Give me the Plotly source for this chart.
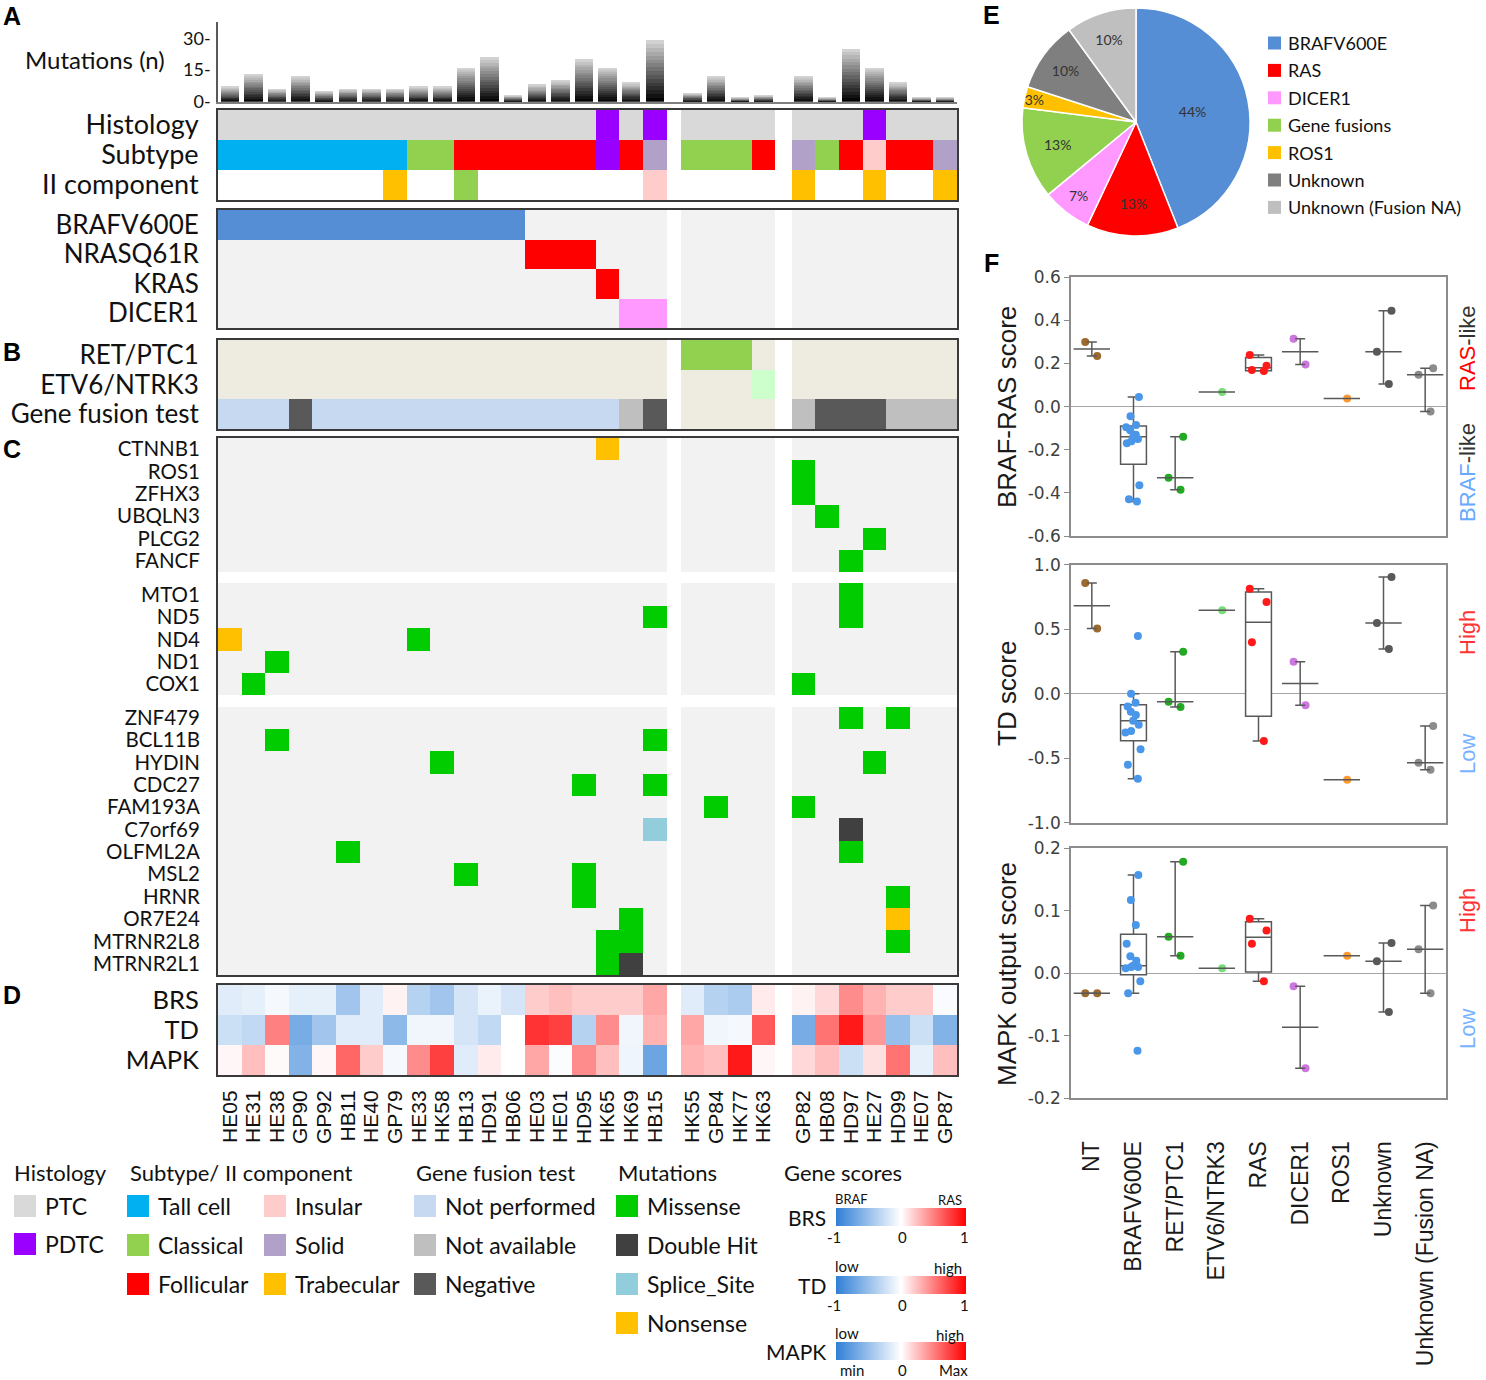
import numpy as np
import plotly.graph_objects as go

W, H = 1486, 1380


def px(x):
    return x / W


def py(y):
    return 1 - y / H


# ============================ DATA ============================
samples = ["HE05", "HE31", "HE38", "GP90", "GP92", "HB11", "HE40", "GP79", "HE33", "HK58",
           "HB13", "HD91", "HB06", "HE03", "HE01", "HD95", "HK65", "HK69", "HB15",
           "HK55", "GP84", "HK77", "HK63",
           "GP82", "HB08", "HD97", "HE27", "HD99", "HE07", "GP87"]
group_sizes = [19, 4, 7]

mutation_counts = [7, 13, 6, 12, 5, 6, 6, 6, 7, 7, 16, 21, 3, 8, 10, 20, 16, 9, 29,
                   4, 12, 2, 3,
                   12, 2, 25, 16, 9, 2, 2]

histology = ["PTC"] * 16 + ["PDTC", "PTC", "PDTC"] + ["PTC"] * 7 + ["PDTC"] + ["PTC"] * 3
subtype = (["Tall cell"] * 8 + ["Classical"] * 2 + ["Follicular"] * 6 + ["PDTC", "Follicular", "Solid"]
           + ["Classical"] * 3 + ["Follicular"]
           + ["Solid", "Classical", "Follicular", "Insular", "Follicular", "Follicular", "Solid"])
second_component = ([None] * 7 + ["Trabecular"] + [None] * 2 + ["Classical"] + [None] * 7 + ["Insular"]
                    + [None] * 4 + ["Trabecular"] + [None] * 2 + ["Trabecular"] + [None] * 2 + ["Trabecular"])
annot_rows = ["Histology", "Subtype", "II component"]

driver = ["BRAFV600E"] * 13 + ["NRASQ61R"] * 3 + ["KRAS"] + ["DICER1"] * 2 + [None] * 11
driver_rows = ["BRAFV600E", "NRASQ61R", "KRAS", "DICER1"]

fusion = [None] * 19 + ["RET/PTC1"] * 3 + ["ETV6/NTRK3"] + [None] * 7
fusion_rows = ["RET/PTC1", "ETV6/NTRK3"]
fusion_test = (["Not performed"] * 3 + ["Negative"] + ["Not performed"] * 13 + ["Not available", "Negative"]
               + [None] * 4
               + ["Not available", "Negative", "Negative", "Negative", "Not available", "Not available", "Not available"])

mut_gene_blocks = [["CTNNB1", "ROS1", "ZFHX3", "UBQLN3", "PLCG2", "FANCF"],
                   ["MTO1", "ND5", "ND4", "ND1", "COX1"],
                   ["ZNF479", "BCL11B", "HYDIN", "CDC27", "FAM193A", "C7orf69", "OLFML2A",
                    "MSL2", "HRNR", "OR7E24", "MTRNR2L8", "MTRNR2L1"]]
mut_gene = ["CTNNB1", "ROS1", "ZFHX3", "UBQLN3", "PLCG2", "FANCF", "MTO1", "ND5", "ND5", "ND4", "ND4",
            "ND1", "COX1", "COX1", "ZNF479", "ZNF479", "BCL11B", "BCL11B", "HYDIN", "HYDIN",
            "CDC27", "CDC27", "FAM193A", "FAM193A", "C7orf69", "C7orf69", "OLFML2A", "OLFML2A",
            "MSL2", "MSL2", "HRNR", "HRNR", "OR7E24", "OR7E24", "MTRNR2L8", "MTRNR2L8", "MTRNR2L8",
            "MTRNR2L1", "MTRNR2L1"]
mut_sample = ["HK65", "GP82", "GP82", "HB08", "HE27", "HD97", "HD97", "HB15", "HD97", "HE05", "HE33",
              "HE38", "HE31", "GP82", "HD97", "HD99", "HE38", "HB15", "HK58", "HE27",
              "HD95", "HB15", "GP84", "GP82", "HB15", "HD97", "HB11", "HD97",
              "HB13", "HD95", "HD95", "HD99", "HK69", "HD99", "HK65", "HK69", "HD99",
              "HK65", "HK69"]
mut_type = ["Nonsense", "Missense", "Missense", "Missense", "Missense", "Missense", "Missense", "Missense",
            "Missense", "Nonsense", "Missense", "Missense", "Missense", "Missense", "Missense", "Missense",
            "Missense", "Missense", "Missense", "Missense", "Missense", "Missense", "Missense", "Missense",
            "Splice_Site", "Double Hit", "Missense", "Missense", "Missense", "Missense", "Missense",
            "Missense", "Missense", "Nonsense", "Missense", "Missense", "Missense", "Missense", "Double Hit"]

score_rows = ["BRS", "TD", "MAPK"]
brs_score = [-0.15, -0.12, -0.05, -0.12, -0.12, -0.45, -0.15, 0.05, -0.35, -0.45, -0.2, -0.1, -0.2,
             0.2, 0.25, 0.2, 0.2, 0.2, 0.35,
             -0.15, -0.35, -0.4, 0.08,
             0.05, 0.15, 0.45, 0.3, 0.2, 0.2, -0.03]
td_score = [-0.25, -0.3, 0.5, -0.65, -0.45, -0.15, -0.15, -0.55, -0.07, -0.07, -0.2, -0.3, 0.0,
            0.8, 0.75, -0.35, 0.45, -0.07, 0.3,
            0.35, -0.07, -0.05, 0.65,
            -0.65, 0.55, 0.9, 0.4, -0.5, -0.25, -0.6]
mapk_score = [0.03, 0.25, 0.02, -0.6, 0.03, 0.6, 0.2, -0.05, 0.45, 0.75, -0.15, 0.08, 0.0,
              0.35, -0.02, 0.45, 0.25, -0.08, -0.7,
              0.3, 0.25, 0.9, 0.03,
              0.15, 0.25, -0.25, 0.12, 0.55, -0.12, 0.25]

pie_labels = ["BRAFV600E", "RAS", "DICER1", "Gene fusions", "ROS1", "Unknown", "Unknown (Fusion NA)"]
pie_values = [44, 13, 7, 13, 3, 10, 10]
pie_colors = ["#558ed5", "#ff0000", "#ff99ff", "#92d050", "#ffc000", "#7f7f7f", "#bfbfbf"]

groups_f = ["NT", "BRAFV600E", "RET/PTC1", "ETV6/NTRK3", "RAS", "DICER1", "ROS1", "Unknown",
            "Unknown (Fusion NA)"]
group_colors_f = ["#9c6a2e", "#4a97ea", "#22aa22", "#77dd77", "#ff1a1a", "#cc77dd", "#ff9933",
                  "#595959", "#8c8c8c"]
brs_f = {
    "NT": [0.30, 0.235],
    "BRAFV600E": [0.045, -0.045, -0.085, -0.095, -0.11, -0.13, -0.14, -0.15, -0.16, -0.17, -0.365, -0.43, -0.44],
    "RET/PTC1": [-0.14, -0.33, -0.385],
    "ETV6/NTRK3": [0.068],
    "RAS": [0.24, 0.19, 0.17, 0.165],
    "DICER1": [0.315, 0.195],
    "ROS1": [0.038],
    "Unknown": [0.445, 0.255, 0.105],
    "Unknown (Fusion NA)": [0.178, 0.148, -0.022],
}
td_f = {
    "NT": [0.858, 0.506],
    "BRAFV600E": [0.447, 0.0, -0.07, -0.10, -0.14, -0.165, -0.21, -0.24, -0.29, -0.30, -0.43, -0.55, -0.66],
    "RET/PTC1": [0.325, -0.062, -0.103],
    "ETV6/NTRK3": [0.646],
    "RAS": [0.814, 0.71, 0.398, -0.367],
    "DICER1": [0.248, -0.09],
    "ROS1": [-0.667],
    "Unknown": [0.904, 0.548, 0.346],
    "Unknown (Fusion NA)": [-0.25, -0.535, -0.59],
}
mapk_f = {
    "NT": [-0.032, -0.032],
    "BRAFV600E": [0.157, 0.117, 0.077, 0.047, 0.027, 0.02, 0.012, 0.01, 0.01, 0.008, -0.013, -0.032, -0.124],
    "RET/PTC1": [0.178, 0.058, 0.028],
    "ETV6/NTRK3": [0.008],
    "RAS": [0.087, 0.068, 0.047, -0.013],
    "DICER1": [-0.021, -0.152],
    "ROS1": [0.028],
    "Unknown": [0.048, 0.019, -0.062],
    "Unknown (Fusion NA)": [0.108, 0.038, -0.032],
}
brs_ticks = [-0.6, -0.4, -0.2, 0.0, 0.2, 0.4, 0.6]
brs_ticktext = ["-0.6", "-0.4", "-0.2", "0.0", "0.2", "0.4", "0.6"]
td_ticks = [-1.0, -0.5, 0.0, 0.5, 1.0]
td_ticktext = ["-1.0", "-0.5", "0.0", "0.5", "1.0"]
mapk_ticks = [-0.2, -0.1, 0.0, 0.1, 0.2]
mapk_ticktext = ["-0.2", "-0.1", "0.0", "0.1", "0.2"]
bar_ticks = [0, 15, 30]
bar_ticktext = ["0-", "15-", "30-"]

# ============================ STYLE ============================
LFONT = "Lato"
AFONT = "Liberation Sans"
TFONT = "DejaVu Sans"
cell_colors = {
    "PTC": "#d9d9d9", "PDTC": "#9a00ff",
    "Tall cell": "#00b0f0", "Classical": "#92d050", "Follicular": "#ff0000",
    "Insular": "#ffcccc", "Solid": "#b1a0c7", "Trabecular": "#ffc000",
    "BRAFV600E": "#558ed5", "NRASQ61R": "#ff0000", "KRAS": "#ff0000", "DICER1": "#ff99ff",
    "RET/PTC1": "#92d050", "ETV6/NTRK3": "#ccffcc",
    "Not performed": "#c6d9f1", "Not available": "#bfbfbf", "Negative": "#595959",
    "Missense": "#00cc00", "Double Hit": "#404040", "Splice_Site": "#92cddc", "Nonsense": "#ffc000",
    "empty_white": "#ffffff", "empty_gray": "#f2f2f2", "empty_beige": "#eeece1",
}
keys = list(cell_colors)
code = {k: i for i, k in enumerate(keys)}
NK = len(keys)
cat_scale = []
for i, k in enumerate(keys):
    cat_scale += [[i / NK, cell_colors[k]], [(i + 1) / NK, cell_colors[k]]]
score_scale = [[0, "#2f7fd6"], [0.5, "#ffffff"], [1, "#ff0000"]]

GAP_W = [0.6, 0.7]
col_widths, sample_col = [], []
for g, nn in enumerate(group_sizes):
    if g:
        col_widths.append(GAP_W[g - 1])
    for _ in range(nn):
        sample_col.append(len(col_widths))
        col_widths.append(1.0)
x_edges = [0.0] + [float(v) for v in np.cumsum(col_widths)]
NCOL = len(col_widths)
XMAX = x_edges[-1]
x_centers = [(x_edges[c] + x_edges[c + 1]) / 2 for c in sample_col]


def grid_row(values, fill):
    row = [None] * NCOL
    for i, v in enumerate(values):
        row[sample_col[i]] = code[v if v is not None else fill]
    return row


fig = go.Figure()


def cat_heatmap(z, y_edges, ax):
    fig.add_trace(go.Heatmap(z=z, x=x_edges, y=y_edges, colorscale=cat_scale, zmin=-0.5, zmax=NK - 0.5,
                             showscale=False, hoverinfo="skip", xaxis="x" + ax, yaxis="y" + ax))


# ---- A: mutation count bars (gradient by stacked segments) ----
N_SEG = 16
for k in range(N_SEG):
    t = k / (N_SEG - 1)
    s = int(5 + t * 205)
    fig.add_trace(go.Bar(x=x_centers, y=[v / N_SEG for v in mutation_counts], width=0.78,
                         marker=dict(color=f"rgb({s},{s},{s})", line=dict(width=0)),
                         hoverinfo="skip", showlegend=False, xaxis="x", yaxis="y"))

# ---- A: annotation rows ----
cat_heatmap([grid_row(histology, "empty_white"), grid_row(subtype, "empty_white"),
             grid_row(second_component, "empty_white")], [0, 1, 2, 3], "2")
cat_heatmap([grid_row([d if d == gname else None for d in driver], "empty_gray") for gname in driver_rows],
            [0, 1, 2, 3, 4], "3")
# ---- B ----
cat_heatmap([grid_row([f if f == gname else None for f in fusion], "empty_beige") for gname in fusion_rows]
            + [grid_row(fusion_test, "empty_beige")], [0, 1, 2, 3], "4")
# ---- C ----
mut_rows = []
for b, blk in enumerate(mut_gene_blocks):
    if b:
        mut_rows.append(None)
    mut_rows += blk
row_h = [0.5 if r is None else 1.0 for r in mut_rows]
y_edges_mut = [0.0] + [float(v) for v in np.cumsum(row_h)]
z_mut = []
for r in mut_rows:
    if r is None:
        z_mut.append([None] * NCOL)
        continue
    vals = [None] * len(samples)
    for gname, smp, typ in zip(mut_gene, mut_sample, mut_type):
        if gname == r:
            vals[samples.index(smp)] = typ
    z_mut.append(grid_row(vals, "empty_gray"))
cat_heatmap(z_mut, y_edges_mut, "5")
mut_tickvals = [(y_edges_mut[i] + y_edges_mut[i + 1]) / 2 for i, r in enumerate(mut_rows) if r is not None]
mut_ticktext = [r for r in mut_rows if r is not None]

# ---- D: score heatmap rows, each with its own legend colour bar ----
cb_y = [1217, 1285, 1351]
for r, vals in enumerate([brs_score, td_score, mapk_score]):
    row = [None] * NCOL
    for i, v in enumerate(vals):
        row[sample_col[i]] = v
    fig.add_trace(go.Heatmap(
        z=[row], x=x_edges, y=[r, r + 1], colorscale=score_scale, zmin=-1, zmax=1,
        hoverinfo="skip", xaxis="x6", yaxis="y6", showscale=True,
        colorbar=dict(orientation="h", x=px(901), xanchor="center", y=py(cb_y[r]), yanchor="middle",
                      len=130, lenmode="pixels", thickness=18, thicknessmode="pixels",
                      showticklabels=False, ticks="", outlinewidth=0, xpad=0, ypad=0)))

# ---- E: pie ----
fig.add_trace(go.Pie(values=pie_values, labels=pie_labels, sort=False, direction="clockwise", rotation=0,
                     marker=dict(colors=pie_colors, line=dict(color="white", width=1.5)),
                     texttemplate="%{percent:.0%}", textposition="inside", insidetextorientation="horizontal",
                     textfont=dict(family=LFONT, size=14, color="#333333"),
                     domain=dict(x=[px(1022), px(1250)], y=[py(236), py(8)]),
                     showlegend=False, hoverinfo="skip"))

# ---- F: box / range plots ----
LINE_C = "#595959"
for ax, data in [("7", brs_f), ("8", td_f), ("9", mapk_f)]:
    for cat, col in zip(groups_f, group_colors_f):
        vals = data[cat]
        if len(vals) >= 4:
            q1, med, q3 = np.percentile(vals, [25, 50, 75], method="weibull")
            iqr = q3 - q1
            lf = min(v for v in vals if v >= q1 - 1.5 * iqr)
            uf = max(v for v in vals if v <= q3 + 1.5 * iqr)
            fig.add_trace(go.Box(x=[cat], q1=[q1], median=[med], q3=[q3], lowerfence=[lf], upperfence=[uf],
                                 boxpoints=False, width=0.62, whiskerwidth=0.45,
                                 line=dict(color=LINE_C, width=1.5), fillcolor="white",
                                 hoverinfo="skip", showlegend=False, xaxis="x" + ax, yaxis="y" + ax))
        else:
            med = float(np.median(vals))
            fig.add_trace(go.Scatter(
                x=[cat], y=[med], mode="markers",
                marker=dict(symbol="line-ew", size=26, color=LINE_C, line=dict(width=1.5, color=LINE_C)),
                error_y=dict(type="data", symmetric=False, array=[max(vals) - med],
                             arrayminus=[med - min(vals)], color=LINE_C, thickness=1.5, width=5,
                             visible=len(vals) > 1),
                hoverinfo="skip", showlegend=False, xaxis="x" + ax, yaxis="y" + ax))
        fig.add_trace(go.Box(x=[cat] * len(vals), y=vals, boxpoints="all", jitter=0.8, pointpos=0, width=0.62,
                             line=dict(width=0, color="rgba(0,0,0,0)"), fillcolor="rgba(0,0,0,0)",
                             marker=dict(color=col, size=8), hoverinfo="skip", showlegend=False,
                             xaxis="x" + ax, yaxis="y" + ax))

# ============================ LAYOUT ============================
GX = [px(218), px(957)]
frame = dict(showline=True, mirror=True, linecolor="#3a3a3a", linewidth=2, showgrid=False, zeroline=False,
             automargin=False)
hidden_x = dict(frame, range=[0, XMAX], domain=GX, showticklabels=False, ticks="")


def row_yaxis(top, bottom, nrows, tickvals, ticktext, size):
    return dict(frame, domain=[py(bottom), py(top)], range=[nrows, 0], tickvals=tickvals, ticktext=ticktext,
                ticks="outside", ticklen=12, tickcolor="rgba(0,0,0,0)",
                tickfont=dict(family=LFONT, size=size, color="#111111"))


layout = dict(
    width=W, height=H, margin=dict(l=0, r=0, t=0, b=0), template="none",
    paper_bgcolor="white", plot_bgcolor="rgba(0,0,0,0)", barmode="stack", boxmode="overlay",
    showlegend=False, hovermode=False, font=dict(family=LFONT, color="#1a1a1a"),
    uniformtext=dict(minsize=14, mode="show"),
    xaxis=dict(domain=GX, range=[0, XMAX], showline=True, linecolor="#7f7f7f", linewidth=2, mirror=False,
               showgrid=False, zeroline=False, showticklabels=False, ticks="", automargin=False),
    yaxis=dict(domain=[py(101.7), py(22)], range=[0, 37.7], tickvals=bar_ticks, ticktext=bar_ticktext,
               showline=True, linecolor="#595959", linewidth=1.5, showgrid=False, zeroline=False,
               ticks="outside", ticklen=2, tickcolor="rgba(0,0,0,0)",
               tickfont=dict(family=LFONT, size=18, color="#111111"), automargin=False),
    xaxis2=dict(hidden_x, anchor="y2"),
    yaxis2=dict(row_yaxis(110, 200, 3, [0.5, 1.5, 2.5], annot_rows, 27), anchor="x2"),
    xaxis3=dict(hidden_x, anchor="y3"),
    yaxis3=dict(row_yaxis(210, 328, 4, [0.5, 1.5, 2.5, 3.5], driver_rows, 26), anchor="x3"),
    xaxis4=dict(hidden_x, anchor="y4"),
    yaxis4=dict(row_yaxis(340, 429, 3, [0.5, 1.5, 2.5], fusion_rows + ["Gene fusion test"], 26), anchor="x4"),
    xaxis5=dict(hidden_x, anchor="y5"),
    yaxis5=dict(row_yaxis(438, 975, y_edges_mut[-1], mut_tickvals, mut_ticktext, 20.5), anchor="x5"),
    xaxis6=dict(frame, range=[0, XMAX], domain=GX, anchor="y6", tickvals=x_centers, ticktext=samples,
                tickangle=-90, ticks="outside", ticklen=5, tickcolor="rgba(0,0,0,0)",
                tickfont=dict(family=AFONT, size=21, color="#111111")),
    yaxis6=dict(row_yaxis(985, 1075, 3, [0.5, 1.5, 2.5], score_rows, 25.5), anchor="x6"),
)

FX = [px(1071), px(1446)]
f_frame = dict(showline=True, mirror=True, linecolor="#8c8c8c", linewidth=1.5, showgrid=False, automargin=False)
for ax, (top, bottom), (rng, tv, tt) in [
        ("7", (277.3, 536), ([-0.6, 0.6], brs_ticks, brs_ticktext)),
        ("8", (564.7, 822.7), ([-1.0, 1.0], td_ticks, td_ticktext)),
        ("9", (848, 1098.3), ([-0.2, 0.2], mapk_ticks, mapk_ticktext))]:
    xa = dict(f_frame, domain=FX, anchor="y" + ax, type="category", categoryorder="array",
              categoryarray=groups_f, range=[-0.5, len(groups_f) - 0.5], zeroline=False)
    if ax == "9":
        xa.update(showticklabels=True, tickangle=-90, ticks="outside", ticklen=32,
                  tickcolor="rgba(0,0,0,0)", tickfont=dict(family=AFONT, size=23, color="#1a1a1a"))
    else:
        xa.update(showticklabels=False, ticks="")
    layout["xaxis" + ax] = xa
    layout["yaxis" + ax] = dict(f_frame, domain=[py(bottom), py(top)], anchor="x" + ax, range=rng,
                                tickvals=tv, ticktext=tt, ticks="outside", ticklen=5, tickcolor="#8c8c8c",
                                tickfont=dict(family=TFONT, size=17, color="#404040"),
                                zeroline=True, zerolinecolor="#a6a6a6", zerolinewidth=1.2)

fig.update_layout(**layout)

# ============================ TEXT & LEGENDS ============================
ann = []
shapes = []


def text(s, x, y, size, family=LFONT, color="#111111", xanchor="center", angle=0):
    ann.append(dict(text=s, x=px(x), y=py(y), xref="paper", yref="paper", showarrow=False,
                    xanchor=xanchor, yanchor="middle", textangle=angle,
                    font=dict(family=family, size=size, color=color)))


def square(x, y, size, color):
    shapes.append(dict(type="rect", xref="paper", yref="paper", x0=px(x), x1=px(x + size),
                       y0=py(y + size / 2), y1=py(y - size / 2), fillcolor=color, line=dict(width=0)))


for letter, lx, ly in [("A", 12, 16), ("B", 12, 352), ("C", 12, 449), ("D", 12, 995), ("E", 991, 15),
                       ("F", 991, 263)]:
    text(f"<b>{letter}</b>", lx, ly, 25, family=AFONT, color="#000000")

text("Mutations (n)", 167, 60, 24, xanchor="right")

# F axis titles and side labels
text("BRAF-RAS score", 1007, 407, 26, family=AFONT, angle=-90, color="#1a1a1a")
text("TD score", 1007, 694, 26, family=AFONT, angle=-90, color="#1a1a1a")
text("MAPK output score", 1007, 974, 26, family=AFONT, angle=-90, color="#1a1a1a")
RED, LBLUE, DARK = "#ff0000", "#66aaff", "#333333"
text(f"<span style='color:{RED}'>RAS</span>-like", 1467, 348, 22, family=AFONT, color=DARK, angle=-90)
text(f"<span style='color:{LBLUE}'>BRAF</span>-like", 1467, 473, 22, family=AFONT, color=DARK, angle=-90)
text("High", 1467, 633, 22, family=AFONT, color="#ff3333", angle=-90)
text("Low", 1467, 754, 22, family=AFONT, color="#77b3ff", angle=-90)
text("High", 1467, 911, 22, family=AFONT, color="#ff3333", angle=-90)
text("Low", 1467, 1029, 22, family=AFONT, color="#77b3ff", angle=-90)

# pie legend
for i, (lab, colr) in enumerate(zip(pie_labels, pie_colors)):
    yy = 43 + i * 27.4
    square(1268, yy, 13, colr)
    text(lab, 1286, yy, 18, xanchor="left")

# bottom legends
legend_titles = [("Histology", 12), ("Subtype/ II component", 128), ("Gene fusion test", 414),
                 ("Mutations", 616), ("Gene scores", 782)]
for t, x in legend_titles:
    text(t, x, 1172, 22, xanchor="left")
legend_items = [("PTC", "#d9d9d9", 14, 1206), ("PDTC", "#9a00ff", 14, 1244),
                ("Tall cell", "#00b0f0", 127, 1206), ("Classical", "#92d050", 127, 1245),
                ("Follicular", "#ff0000", 127, 1284), ("Insular", "#ffcccc", 264, 1206),
                ("Solid", "#b1a0c7", 264, 1245), ("Trabecular", "#ffc000", 264, 1284),
                ("Not performed", "#c6d9f1", 414, 1206), ("Not available", "#bfbfbf", 414, 1245),
                ("Negative", "#595959", 414, 1284),
                ("Missense", "#00cc00", 616, 1206), ("Double Hit", "#404040", 616, 1245),
                ("Splice_Site", "#92cddc", 616, 1284), ("Nonsense", "#ffc000", 616, 1323)]
for lab, colr, x, y in legend_items:
    square(x, y, 22, colr)
    text(lab, x + 29, y, 23, xanchor="left")

for lab, y in zip(score_rows, cb_y):
    text(lab, 828, y, 21, xanchor="right")
for s, x, y, size in [("BRAF", 852, 1199, 13), ("RAS", 950, 1200, 13),
                      ("-1", 834, 1237, 15), ("0", 902, 1237, 15), ("1", 964, 1237, 15),
                      ("low", 847, 1266, 15), ("high", 948, 1268, 15),
                      ("-1", 834, 1305, 15), ("0", 902, 1305, 15), ("1", 964, 1305, 15),
                      ("low", 847, 1333, 15), ("high", 950, 1335, 15),
                      ("min", 852, 1370, 15), ("0", 902, 1370, 15), ("Max", 953, 1370, 15)]:
    text(s, x, y, size)

fig.update_layout(annotations=ann, shapes=shapes)

fig.write_html("out.html", config={"displayModeBar": False},
               post_script="document.body.style.margin='0px';document.body.style.overflow='hidden';")
